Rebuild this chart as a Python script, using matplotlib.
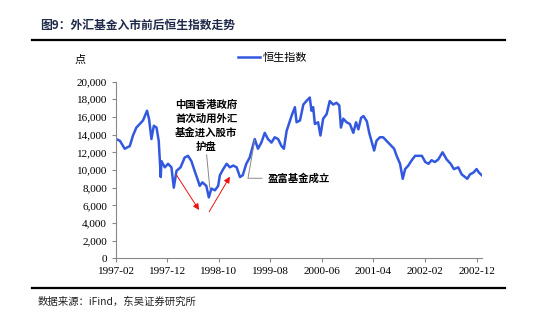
import pandas as pd
import matplotlib.pyplot as plt
from matplotlib.lines import Line2D
from matplotlib.ticker import FuncFormatter

plt.rcParams['font.family'] = ['Noto Sans CJK SC', 'DejaVu Sans']

# Hang Seng index readings (points)
dates = [
    "1997-02-01", "1997-02-24", "1997-03-24", "1997-04-23", "1997-05-12", "1997-06-01",
    "1997-06-21", "1997-07-10", "1997-08-03", "1997-08-15", "1997-08-29", "1997-09-12",
    "1997-09-28", "1997-10-11", "1997-10-23", "1997-10-27", "1997-11-16", "1997-12-05",
    "1997-12-25", "1998-01-08", "1998-01-24", "1998-02-17", "1998-03-13", "1998-04-02",
    "1998-04-22", "1998-05-11", "1998-05-31", "1998-06-10", "1998-06-26", "1998-07-19",
    "1998-08-03", "1998-08-18", "1998-09-08", "1998-09-27", "1998-10-07", "1998-10-27",
    "1998-11-16", "1998-12-05", "1998-12-25", "1999-01-14", "1999-02-03", "1999-02-19",
    "1999-03-12", "1999-04-01", "1999-05-01", "1999-05-20", "1999-06-09", "1999-06-29",
    "1999-07-18", "1999-08-08", "1999-08-27", "1999-09-16", "1999-10-06", "1999-10-20",
    "1999-11-05", "1999-12-04", "1999-12-24", "2000-01-03", "2000-01-23", "2000-02-12",
    "2000-03-01", "2000-03-21", "2000-03-31", "2000-04-10", "2000-04-20", "2000-05-09",
    "2000-05-23", "2000-06-08", "2000-06-28", "2000-07-17", "2000-08-06", "2000-08-26",
    "2000-09-11", "2000-09-21", "2000-10-05", "2000-10-24", "2000-11-13", "2000-12-03",
    "2000-12-19", "2001-01-02", "2001-01-18", "2001-02-01", "2001-02-21", "2001-03-07",
    "2001-03-20", "2001-04-05", "2001-04-19", "2001-05-09", "2001-05-28", "2001-06-17",
    "2001-07-07", "2001-08-01", "2001-08-16", "2001-09-05", "2001-09-21", "2001-10-05",
    "2001-10-24", "2001-11-13", "2001-12-03", "2001-12-22", "2002-01-12", "2002-02-01",
    "2002-02-20", "2002-03-10", "2002-03-30", "2002-04-19", "2002-05-14", "2002-06-07",
    "2002-07-01", "2002-07-20", "2002-08-15", "2002-09-04", "2002-09-24", "2002-10-07",
    "2002-10-23", "2002-11-12", "2002-12-01", "2002-12-15", "2003-01-01",
]
hsi = [
    13500, 13300, 12400, 12700, 13900, 14800,
    15200, 15600, 16700, 15750, 13500, 15000,
    14800, 13300, 9200, 11000, 10300, 10700,
    10300, 8000, 9900, 10300, 11400, 11600,
    11000, 9900, 8800, 8200, 8600, 8200,
    6900, 7900, 7700, 8200, 9400, 10100,
    10700, 10300, 10500, 10300, 9200, 9400,
    10700, 11400, 13500, 12400, 13100, 14200,
    13500, 13100, 13700, 13500, 12700, 12400,
    14400, 16100, 17100, 15400, 15600, 17400,
    17800, 18200, 16700, 17100, 15200, 15400,
    13900, 15800, 16300, 17800, 17400, 17600,
    17300, 14800, 15800, 15400, 15200, 14200,
    15400, 14600, 15900, 16100, 15500, 14200,
    13300, 12200, 13300, 13700, 13700, 13300,
    12900, 12400, 11600, 10700, 9000, 10100,
    10500, 11100, 11600, 11600, 11600, 10900,
    10700, 11100, 10900, 11200, 12000, 11200,
    10700, 10100, 10300, 9500, 9200, 9000,
    9500, 9700, 10100, 9700, 9400,
]
tick_labels = ["1997-02", "1997-12", "1998-10", "1999-08",
               "2000-06", "2001-04", "2002-02", "2002-12"]

df = pd.DataFrame({"date": pd.to_datetime(dates), "hsi": hsi})
ticks = pd.to_datetime([t + "-01" for t in tick_labels])

fig = plt.figure(figsize=(5.5, 3.25), dpi=100)
ax = fig.add_axes([0.211, 0.205, 0.666, 0.544])

ax.plot(df["date"], df["hsi"], color="#3358e0", lw=1.8, label="恒生指数")

ax.set_ylim(0, 20000)
ax.set_yticks(range(0, 20001, 2000))
ax.yaxis.set_major_formatter(FuncFormatter(lambda v, p: f"{v:,.0f}"))
ax.set_xlim(pd.Timestamp("1997-02-01"), pd.Timestamp("2003-01-04"))
ax.set_xticks(ticks)
ax.set_xticklabels(tick_labels)

for s in ["top", "right"]:
    ax.spines[s].set_visible(False)
for s in ["left", "bottom"]:
    ax.spines[s].set_color("#888888")
    ax.spines[s].set_linewidth(0.8)
ax.tick_params(axis="both", colors="#888888", length=3, width=0.8,
               labelcolor="black", labelsize=8)
for lab in ax.get_xticklabels() + ax.get_yticklabels():
    lab.set_family("Liberation Serif")

# annotations
ax.annotate("中国香港政府\n首次动用外汇\n基金进入股市\n护盘",
            xy=(pd.Timestamp("1998-08-09"), 7930),
            xytext=(pd.Timestamp("1998-07-19"), 15000),
            ha="center", va="center", fontsize=7.5, fontweight="bold",
            linespacing=1.45,
            arrowprops=dict(arrowstyle="-", color="#888888", lw=0.7,
                            shrinkA=0, shrinkB=0, relpos=(0.5, 0)))
ax.annotate("盈富基金成立",
            xy=(pd.Timestamp("1999-05-01"), 13400),
            xytext=(pd.Timestamp("1999-07-16"), 9060),
            ha="left", va="center", fontsize=7.5, fontweight="bold",
            arrowprops=dict(arrowstyle="-", color="#888888", lw=0.7,
                            shrinkA=2, shrinkB=0,
                            connectionstyle="angle,angleA=0,angleB=80,rad=0"))

arrow_kw = dict(arrowstyle="-|>", color="#ee1111", lw=0.7,
                mutation_scale=9, shrinkA=0, shrinkB=0)
ax.annotate("", xy=(pd.Timestamp("1998-06-06"), 5470),
            xytext=(pd.Timestamp("1998-01-24"), 9430), arrowprops=arrow_kw)
ax.annotate("", xy=(pd.Timestamp("1998-12-05"), 9240),
            xytext=(pd.Timestamp("1998-08-05"), 5280), arrowprops=arrow_kw)

ax.legend(loc="center left", bbox_to_anchor=(0.415, 0.823),
          bbox_transform=fig.transFigure, frameon=False, fontsize=8,
          handlelength=2.0, handletextpad=0.2)
fig.text(0.145, 0.815, "点", fontsize=8, ha="center", va="center")

# header and footer
fig.text(0.073, 0.922, "图9：外汇基金入市前后恒生指数走势", fontsize=8.5,
         fontweight="bold", color="#1f2a4a", va="center")
fig.add_artist(Line2D([0.058, 0.918], [0.877, 0.877], color="black", lw=1.6))
fig.add_artist(Line2D([0.058, 0.918], [0.113, 0.113], color="black", lw=1.6))
fig.text(0.069, 0.072, "数据来源：iFind，东吴证券研究所", fontsize=7.5,
         color="#222222", va="center")

fig.savefig("out.png", dpi=100)
